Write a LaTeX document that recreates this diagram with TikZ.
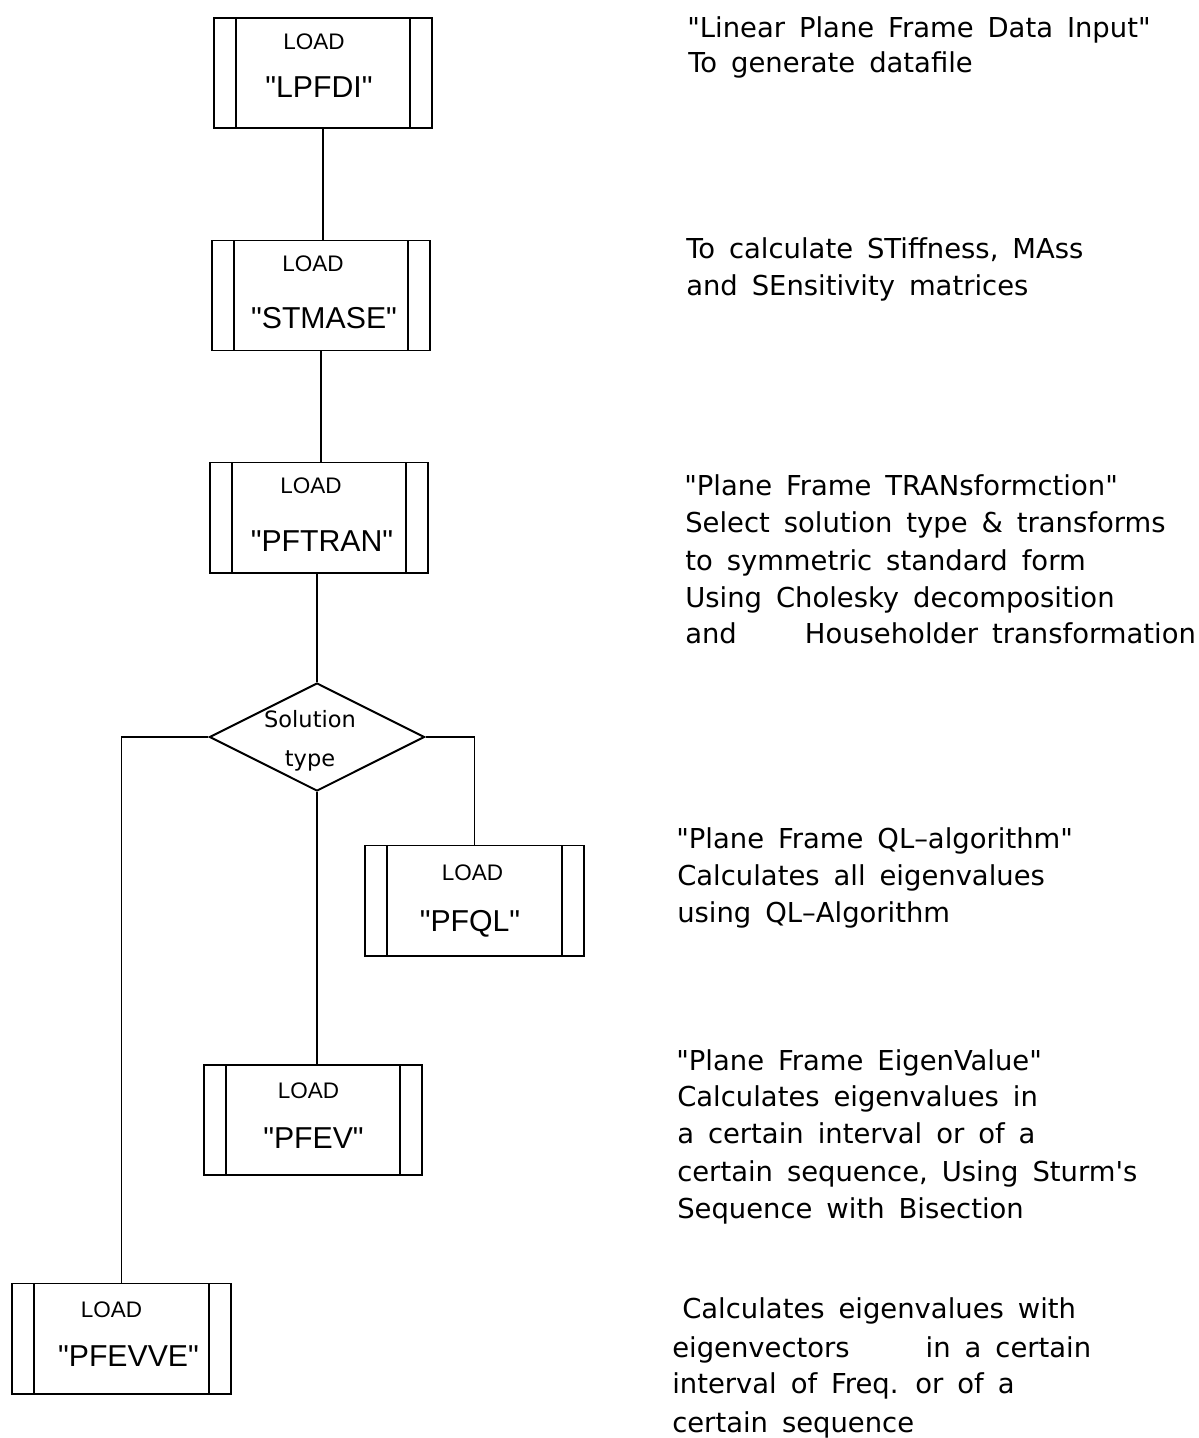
\documentclass[tikz,border=0pt]{standalone}
\usepackage{fontspec}
\setmainfont{Liberation Sans}[Ligatures=TeXOff]
\newfontfamily\descfont{DejaVu Sans}[Ligatures=TeXOff,WordSpace=1.6]
\usetikzlibrary{shapes.geometric}

\tikzset{
  prog/.style={draw, line width=1.4pt, minimum width=5.45cm, minimum height=2.75cm,
    inner sep=0pt,
    path picture={
      \draw[line width=1.4pt]
        ([xshift=0.55cm]path picture bounding box.north west) --
        ([xshift=0.55cm]path picture bounding box.south west)
        ([xshift=-0.55cm]path picture bounding box.north east) --
        ([xshift=-0.55cm]path picture bounding box.south east);}},
  decision/.style={diamond, draw, line width=1.4pt, aspect=2, inner sep=0pt,
    minimum width=5.375cm, minimum height=2.7cm},
  loadtxt/.style={inner sep=0pt, font=\fontsize{16}{19}\selectfont},
  nametxt/.style={inner sep=0pt, font=\fontsize{21.5}{25}\selectfont},
  dectxt/.style={anchor=base, inner sep=0pt, font=\descfont\fontsize{16}{19}\selectfont},
  desc/.style={anchor=base west, inner sep=0pt, font=\descfont\fontsize{19.5}{26}\selectfont},
  link/.style={line width=1pt}
}

\begin{document}
\begin{tikzpicture}[x=0.025cm,y=-0.025cm]
\useasboundingbox (0,0) rectangle (1198,1438);

% program boxes
\node[prog] (lpfdi)  at (323,73)    {};
\node[prog] (stmase) at (321,295.5) {};
\node[prog] (pftran) at (319,517.5) {};
\node[prog] (pfql)   at (474.5,900.5) {};
\node[prog] (pfev)   at (313,1120)  {};
\node[prog] (pfevve) at (121.5,1338.5) {};

% box captions
\node[loadtxt] (l1) at (314,42)    {LOAD};
\node[nametxt] (n1) at (319,87)    {"LPFDI"};
\node[loadtxt] (l2) at (313,263.5) {LOAD};
\node[nametxt] (n2) at (324,318)   {"STMASE"};
\node[loadtxt] (l3) at (311,486)   {LOAD};
\node[nametxt] (n3) at (322,541)   {"PFTRAN"};
\node[loadtxt] (l4) at (472.5,872.5) {LOAD};
\node[nametxt] (n4) at (470,923.5) {"PFQL"};
\node[loadtxt] (l5) at (308.5,1091) {LOAD};
\node[nametxt] (n5) at (313.5,1138.5) {"PFEV"};
\node[loadtxt] (l6) at (111.5,1310) {LOAD};
\node[nametxt] (n6) at (128.5,1356.5) {"PFEVVE"};

% decision
\node[decision] (sol) at (317,737) {};
\node[dectxt] (s1) at (310,727) {Solution};
\node[dectxt] (s2) at (310,766) {type};

% connectors
\draw[link] (lpfdi.south) -- (lpfdi.south |- stmase.north);
\draw[link] (stmase.south) -- (stmase.south |- pftran.north);
\draw[link] (sol.north) -- (sol.north |- pftran.south);
\draw[link] (sol.west) -| (pfevve.north);
\draw[link] (sol.east) -| (pfql.north);
\draw[link] (sol.south) -- (sol.south |- pfev.north);

% descriptions
\node[desc] (d11) at (687,38)  {"Linear Plane Frame Data Input"};
\node[desc] (d12) at (688,73)  {To generate datafile};

\node[desc] (d21) at (686,259) {To calculate STiffness, MAss};
\node[desc] (d22) at (686,295) {and SEnsitivity matrices};

\node[desc] (d31) at (684,495) {"Plane Frame TRANsformction"};
\node[desc] (d32) at (685,532) {Select solution type \& transforms};
\node[desc] (d33) at (685,570) {to symmetric standard form};
\node[desc] (d34) at (685,607) {Using Cholesky decomposition};
\node[desc] (d35) at (685,643) {and\hspace{1.7cm}Householder transformation};

\node[desc] (d41) at (676,848) {"Plane Frame QL–algorithm"};
\node[desc] (d42) at (677,885) {Calculates all eigenvalues};
\node[desc] (d43) at (677,922) {using QL–Algorithm};

\node[desc] (d51) at (676,1070) {"Plane Frame EigenValue"};
\node[desc] (d52) at (677,1106) {Calculates eigenvalues in};
\node[desc] (d53) at (677,1143) {a certain interval or of a};
\node[desc] (d54) at (677,1181) {certain sequence, Using Sturm's};
\node[desc] (d55) at (677,1218) {Sequence with Bisection};

\node[desc] (d61) at (682,1318) {Calculates eigenvalues with};
\node[desc] (d62) at (672,1357) {eigenvectors\hspace{1.9cm}in a certain};
\node[desc] (d63) at (672,1393) {interval of Freq. or of a};
\node[desc] (d64) at (672,1432) {certain sequence};
\end{tikzpicture}
\end{document}
